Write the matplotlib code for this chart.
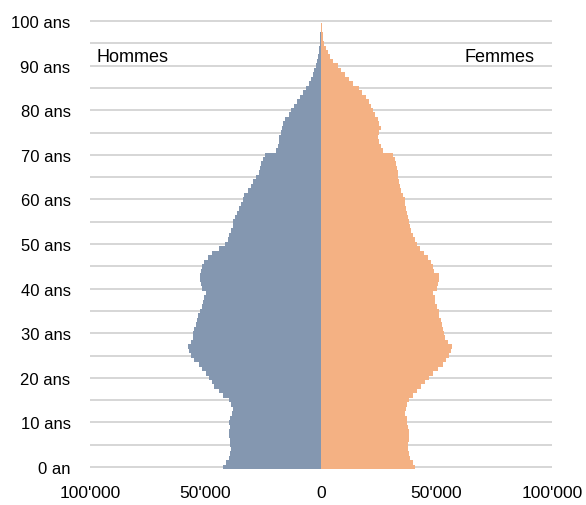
from matplotlib import pyplot as plt
import numpy as np

plt.rcParams['font.family'] = ['Liberation Sans', 'DejaVu Sans']

ages = list(range(0, 101))

hommes = [42600, 41100, 40000, 39400, 39000, 39200, 39400, 39700, 39700, 39400,
          39700, 39400, 38500, 38300, 39000, 39700, 42600, 44300, 46200, 47200,
          48600, 50000, 51500, 53000, 54800, 56300, 57300, 57500, 56300, 55600,
          55300, 54800, 54100, 53700, 53100, 52400, 51500, 51000, 50500, 49800,
          51500, 52000, 52400, 52400, 52000, 51500, 50500, 49000, 47200, 44000,
          41400, 40400, 39700, 39000, 38300, 38000, 37100, 36500, 35700, 34600,
          33900, 33200, 31800, 30300, 29300, 28100, 26700, 26400, 26000, 25300,
          24100, 19500, 18800, 18300, 18000, 17300, 16800, 16600, 15400, 14000,
          13000, 11600, 10600, 9100, 7700, 6500, 5400, 4300, 3600, 2900,
          2200, 1700, 1300, 1000, 700, 500, 350, 250, 150, 100,
          100]

femmes = [40800, 39700, 38500, 37900, 37600, 37500, 37900, 38200, 37900, 37600,
          37400, 37200, 36500, 36800, 37400, 38200, 39700, 41400, 43300, 45200,
          46600, 48600, 50500, 52600, 54100, 55200, 56300, 56900, 54800, 53800,
          53400, 52600, 52400, 51900, 51200, 50900, 50000, 49500, 49500, 48600,
          50000, 50500, 51200, 51000, 49000, 48600, 47600, 46100, 44700, 42900,
          41400, 40500, 39800, 39000, 38500, 38200, 37600, 37100, 36800, 36500,
          36200, 35600, 34600, 34200, 33900, 33500, 33200, 32700, 32500, 32200,
          31000, 26700, 26000, 24900, 24500, 24900, 26000, 25200, 24800, 23500,
          22600, 21600, 20600, 19500, 17700, 16300, 14000, 12300, 10500, 8700,
          7200, 5300, 3900, 2900, 2200, 1400, 1000, 700, 500, 300,
          200]

x_ticks = [-100000, -50000, 0, 50000, 100000]
x_labels = ["100'000", "50'000", "0", "50'000", "100'000"]

fig = plt.figure(figsize=(5.86, 5.06), dpi=100)
ax = fig.add_axes([0.1536, 0.0707, 0.7884, 0.8902])

ax.barh(ages, [-h for h in hommes], height=1.0, color='#8497B0', linewidth=0)
ax.barh(ages, femmes, height=1.0, color='#F4B183', linewidth=0)

ax.set_xlim(-100000, 100000)
ax.set_ylim(-0.5, 100.5)

yt = list(range(0, 101, 5))
yl = []
for a in yt:
    if a % 10 == 0:
        yl.append("0 an" if a == 0 else "%d ans" % a)
    else:
        yl.append("")
ax.set_yticks(yt)
ax.set_yticklabels(yl, fontsize=12)
ax.set_xticks(x_ticks)
ax.set_xticklabels(x_labels, fontsize=12.5)

ax.tick_params(axis='both', length=0)
ax.tick_params(axis='y', pad=14)
ax.tick_params(axis='x', pad=11)

ax.set_axisbelow(True)
ax.yaxis.grid(True, color='#D0D0D0', linewidth=1.2)
ax.xaxis.grid(False)
for s in ax.spines.values():
    s.set_visible(False)

ax.text(-97300, 92.0, "Hommes", fontsize=13, ha='left', va='center')
ax.text(92300, 92.0, "Femmes", fontsize=13, ha='right', va='center')

plt.savefig("out.png", dpi=100)
